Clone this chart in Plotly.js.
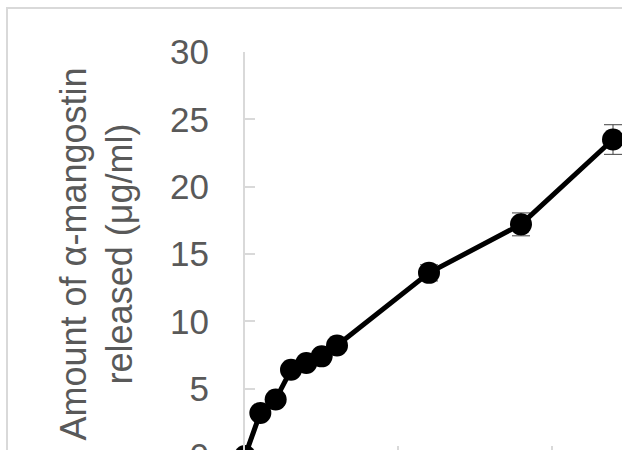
<!DOCTYPE html>
<html>
<head>
<meta charset="utf-8">
<script src="https://cdn.plot.ly/plotly-3.0.1.min.js"></script>
<style>
  html, body { margin: 0; padding: 0; width: 622px; height: 450px; overflow: hidden; background: #fff; }
  #chart { position: absolute; left: 0; top: 0; width: 745px; height: 560px; }
  #frame { position: absolute; left: 6px; top: 7px; width: 900px; height: 700px; border: 2px solid #d9d9d9; pointer-events: none; }
</style>
</head>
<body>
<div id="chart"></div>
<div id="frame"></div>
<script>
// Time (h) and amount of α-mangostin released (μg/ml)
const timeH = [0, 1, 2, 3, 4, 5, 6, 12, 18, 24];
const released = [0, 3.2, 4.2, 6.4, 6.9, 7.4, 8.2, 13.6, 17.2, 23.5];
const releasedSD = [0, 0.2, 0.2, 0.2, 0.2, 0.2, 0.3, 0.6, 0.85, 1.1];
const yTicks = [0, 5, 10, 15, 20, 25, 30];
const xTicks = [0, 10, 20, 30];

const trace = {
  x: timeH,
  y: released,
  type: 'scatter',
  mode: 'lines+markers',
  line: { color: '#000000', width: 5 },
  marker: { color: '#000000', size: 22 },
  error_y: { type: 'data', array: releasedSD, visible: true, color: '#404040', thickness: 1, width: 9 },
  cliponaxis: false,
  showlegend: false
};

const layout = {
  width: 745,
  height: 560,
  margin: { l: 245, r: 40, t: 52, b: 104 },
  paper_bgcolor: 'rgba(0,0,0,0)',
  plot_bgcolor: 'rgba(0,0,0,0)',
  font: { family: '"Liberation Sans", Arial, sans-serif', color: '#595959', size: 34 },
  xaxis: {
    range: [0, 30],
    tickvals: xTicks,
    ticktext: xTicks.map(String),
    showgrid: false,
    zeroline: false,
    showline: true,
    linecolor: '#d9d9d9',
    linewidth: 2,
    ticks: 'inside',
    ticklen: 10,
    tickcolor: '#d9d9d9',
    tickwidth: 2,
    ticklabelstandoff: 12,
    tickfont: { size: 34, color: '#595959' }
  },
  yaxis: {
    range: [0, 30],
    tickvals: yTicks,
    ticktext: yTicks.map(String),
    showgrid: false,
    zeroline: false,
    showline: true,
    linecolor: '#d9d9d9',
    linewidth: 2,
    ticks: 'inside',
    ticklen: 10,
    tickcolor: '#d9d9d9',
    tickwidth: 2,
    ticklabelstandoff: 27,
    tickfont: { size: 35, color: '#595959' },
    title: {
      text: 'Amount of α-mangostin<br>released (μg/ml)',
      font: { size: 36, color: '#595959' },
      standoff: 26
    }
  }
};

Plotly.newPlot('chart', [trace], layout, { staticPlot: true, displayModeBar: false });
</script>
</body>
</html>
